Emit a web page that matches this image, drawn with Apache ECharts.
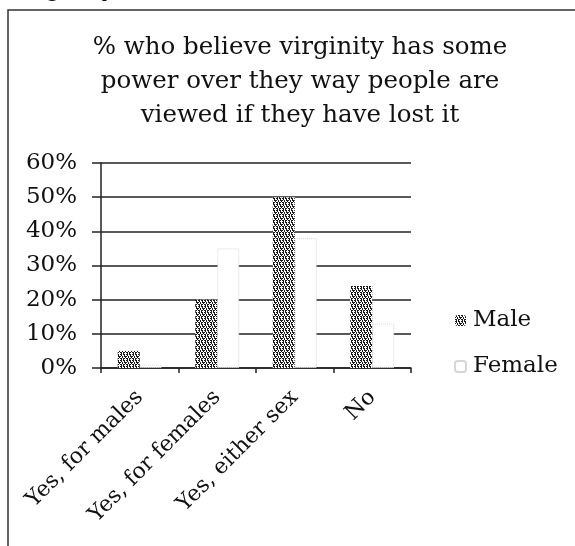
<!DOCTYPE html>
<html>
<head>
<meta charset="utf-8">
<script src="https://cdn.jsdelivr.net/npm/echarts@6/dist/echarts.min.js"></script>
<style>
  html, body { margin: 0; padding: 0; background: #fff; }
  #chart { width: 575px; height: 546px; }
</style>
</head>
<body>
<div id="chart"></div>
<script>
// Survey answers and the share of each sex giving them
const categories = ['Yes, for males', 'Yes, for females', 'Yes, either sex', 'No'];
const maleValues = [0.05, 0.20, 0.50, 0.24];
const femaleValues = [0.01, 0.35, 0.38, 0.13];
const yTicks = [0, 0.1, 0.2, 0.3, 0.4, 0.5, 0.6];
const seriesNames = ['Male', 'Female'];
const titleText = '% who believe virginity has some\npower over they way people are\nviewed if they have lost it';

const FONT = 'DejaVu Serif';

// Speckled fill used for the male bars
function makeSpeckle() {
  const rows = [
    '110110',
    '010010',
    '101011',
    '001001',
    '110110',
    '010100'
  ];
  const c = document.createElement('canvas');
  c.width = 6; c.height = 6;
  const ctx = c.getContext('2d');
  ctx.fillStyle = '#ffffff';
  ctx.fillRect(0, 0, 6, 6);
  ctx.fillStyle = '#1a1a1a';
  rows.forEach((r, y) => {
    for (let x = 0; x < r.length; x++) {
      if (r[x] === '1') ctx.fillRect(x, y, 1, 1);
    }
  });
  return c;
}

const chart = echarts.init(document.getElementById('chart'), null, { renderer: 'canvas' });

const option = {
  backgroundColor: '#ffffff',
  animation: false,
  title: {
    text: titleText,
    left: 295,
    textAlign: 'center',
    top: 26,
    textStyle: {
      fontFamily: FONT,
      fontWeight: 'normal',
      fontSize: 24.5,
      lineHeight: 34,
      color: '#111'
    }
  },
  grid: {
    left: 101,
    right: 164,
    top: 163,
    bottom: 178,
    containLabel: false
  },
  legend: {
    orient: 'vertical',
    left: 449,
    top: 304,
    itemWidth: 11,
    itemHeight: 11,
    itemGap: 23,
    data: seriesNames,
    textStyle: {
      fontFamily: FONT,
      fontSize: 23,
      color: '#111',
      padding: [0, 0, 0, 2]
    }
  },
  xAxis: {
    type: 'category',
    data: categories,
    axisLine: { show: true, lineStyle: { color: '#222', width: 1.5 } },
    axisTick: { show: true, alignWithLabel: false, length: 5, lineStyle: { color: '#222', width: 1.5 } },
    axisLabel: {
      interval: 0,
      rotate: 45,
      margin: 26,
      fontFamily: FONT,
      fontSize: 22,
      color: '#111'
    }
  },
  yAxis: {
    type: 'value',
    min: 0,
    max: 0.6,
    interval: 0.1,
    axisLine: { show: true, lineStyle: { color: '#222', width: 1.5 } },
    axisTick: { show: true, length: 9, lineStyle: { color: '#222', width: 1.5 } },
    splitLine: { show: true, lineStyle: { color: '#222', width: 1.5 } },
    axisLabel: {
      margin: 24,
      fontFamily: FONT,
      fontSize: 23,
      color: '#111',
      formatter: v => {
        const hit = yTicks.find(t => Math.abs(t - v) < 1e-9);
        return Math.round((hit !== undefined ? hit : v) * 100) + '%';
      }
    }
  },
  series: [
    {
      name: seriesNames[0],
      type: 'bar',
      data: maleValues,
      barWidth: 22,
      barGap: '0%',
      itemStyle: {
        color: { image: makeSpeckle(), repeat: 'repeat' }
      }
    },
    {
      name: seriesNames[1],
      type: 'bar',
      data: femaleValues,
      barWidth: 22,
      barGap: '0%',
      itemStyle: {
        color: '#ffffff',
        borderColor: '#d6d6d6',
        borderWidth: 1,
        borderType: 'dotted'
      }
    }
  ],
  graphic: [
    {
      // frame around the chart
      type: 'rect',
      shape: { x: 8, y: 10, width: 600, height: 600 },
      style: { fill: 'none', stroke: '#333', lineWidth: 1.5 },
      silent: true
    },
    {
      // tail of the line of text above the chart
      type: 'text',
      style: {
        x: 13,
        y: 2,
        text: 'virginity',
        textVerticalAlign: 'bottom',
        font: '24px "DejaVu Serif"',
        fill: '#111'
      },
      silent: true
    }
  ]
};

chart.setOption(option);
</script>
</body>
</html>
